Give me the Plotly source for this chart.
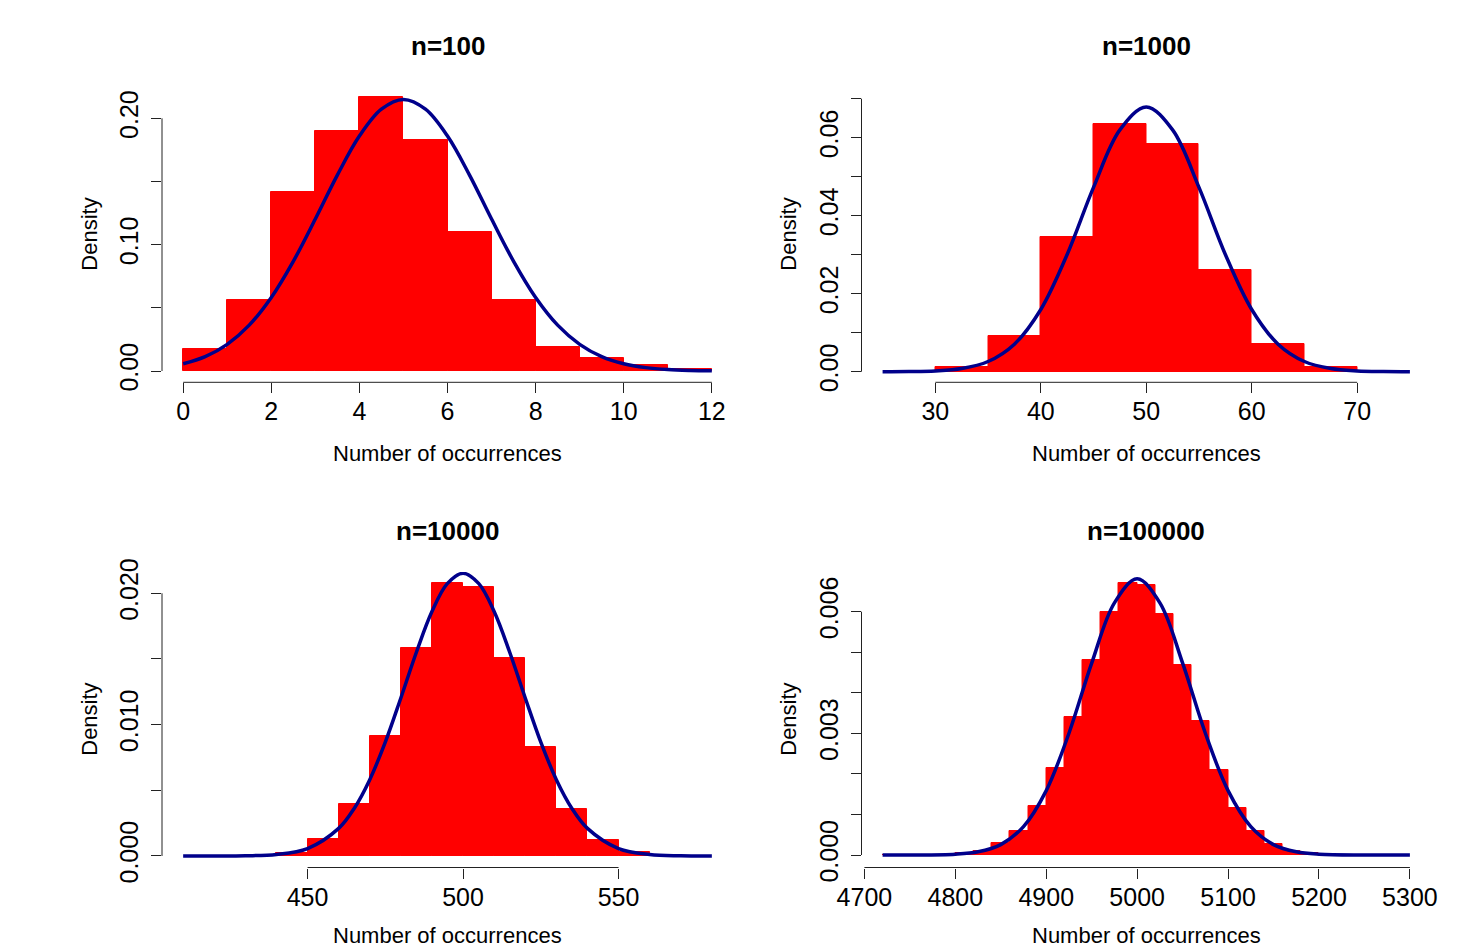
import plotly.graph_objects as go

# ---------------- data ----------------
titles = ["n=100", "n=1000", "n=10000", "n=100000"]
x_label = "Number of occurrences"
y_label = "Density"

# histogram bins (left edges) and densities
p1_left = [0, 1, 2, 3, 4, 5, 6, 7, 8, 9, 10, 11]
p1_binw = 1
p1_density = [0.0177, 0.0560, 0.1413, 0.1900, 0.2166, 0.1826, 0.1104, 0.0565,
              0.0188, 0.0106, 0.0048, 0.0013]

p2_left = [30, 35, 40, 45, 50, 55, 60, 65]
p2_binw = 5
p2_density = [0.0011, 0.0091, 0.0345, 0.0635, 0.0585, 0.0262, 0.0070, 0.0013]

p3_left = [440, 450, 460, 470, 480, 490, 500, 510, 520, 530, 540, 550]
p3_binw = 10
p3_density = [0.00025, 0.00127, 0.00396, 0.00916, 0.01581, 0.02076, 0.02046,
              0.01510, 0.00832, 0.00360, 0.00122, 0.00028]

p4_left = [4720, 4800, 4820, 4840, 4860, 4880, 4900, 4920, 4940, 4960, 4980,
           5000, 5020, 5040, 5060, 5080, 5100, 5120, 5140, 5160, 5180, 5280]
p4_binw = 20
p4_density = [0.000001, 0.00004, 0.00009, 0.00029, 0.00060, 0.00122, 0.00215,
              0.00341, 0.00481, 0.00600, 0.00672, 0.00667, 0.00595, 0.00468,
              0.00331, 0.00210, 0.00117, 0.00060, 0.00026, 0.00011, 0.00005,
              0.000001]

# normal curves
c1_x = [0, 0.5, 1, 1.5, 2, 2.5, 3, 3.5, 4, 4.5, 5, 5.5, 6, 6.5, 7, 7.5, 8,
        8.5, 9, 9.5, 10, 10.5, 11, 11.5, 12]
c1_y = [0.00571, 0.01137, 0.0211, 0.0363, 0.0582, 0.0868, 0.1203, 0.1551,
        0.1860, 0.2073, 0.2150, 0.2073, 0.1860, 0.1551, 0.1203, 0.0868,
        0.0582, 0.0363, 0.0211, 0.01137, 0.00571, 0.00267, 0.00116,
        0.00047, 0.000175]

c2_x = [25, 27.5, 30, 32.5, 35, 37.5, 40, 42.5, 45, 47.5, 50, 52.5, 55, 57.5,
        60, 62.5, 65, 67.5, 70, 72.5, 75]
c2_y = [0.0000079, 0.0000443, 0.000207, 0.000804, 0.002608, 0.00706, 0.01595,
        0.03006, 0.04727, 0.0620, 0.0679, 0.0620, 0.04727, 0.03006, 0.01595,
        0.00706, 0.002608, 0.000804, 0.000207, 0.0000443, 0.0000079]

c3_x = [410, 420, 430, 440, 450, 460, 465, 470, 475, 480, 485, 490, 495, 500,
        505, 510, 515, 520, 525, 530, 535, 540, 550, 560, 570, 580]
c3_y = [0.00000016, 0.00000195, 0.0000173, 0.0001145, 0.000567, 0.0021,
        0.003622, 0.005813, 0.00867, 0.01203, 0.01551, 0.01861, 0.02075,
        0.02152, 0.02075, 0.01861, 0.01551, 0.01203, 0.00867, 0.005813,
        0.003622, 0.0021, 0.000567, 0.0001145, 0.0000173, 0.00000195]

c4_x = [4720, 4750, 4800, 4825, 4850, 4875, 4900, 4925, 4950, 4975, 5000,
        5025, 5050, 5075, 5100, 5125, 5150, 5175, 5200, 5250, 5300]
c4_y = [0.000000075, 0.00000076, 0.0000201, 0.0000788, 0.000257, 0.000700,
        0.001588, 0.003003, 0.004732, 0.006218, 0.00681, 0.006218, 0.004732,
        0.003003, 0.001588, 0.000700, 0.000257, 0.0000788, 0.0000201,
        0.00000076, 0.000000014]

# axis ticks
x1_ticks = [0, 2, 4, 6, 8, 10, 12]
x2_ticks = [30, 40, 50, 60, 70]
x3_ticks = [450, 500, 550]
x4_ticks = [4700, 4800, 4900, 5000, 5100, 5200, 5300]

y1_ticks = [0, 0.05, 0.10, 0.15, 0.20]
y1_text = ["0.00", "", "0.10", "", "0.20"]
y2_ticks = [0, 0.01, 0.02, 0.03, 0.04, 0.05, 0.06, 0.07]
y2_text = ["0.00", "", "0.02", "", "0.04", "", "0.06", ""]
y3_ticks = [0, 0.005, 0.010, 0.015, 0.020]
y3_text = ["0.000", "", "0.010", "", "0.020"]
y4_ticks = [0, 0.001, 0.002, 0.003, 0.004, 0.005, 0.006]
y4_text = ["0.000", "", "", "0.003", "", "", "0.006"]

# ---------------- layout ----------------
W, H = 1460, 950
FONT = "Liberation Sans, Arial, Helvetica, sans-serif"
AX = "#222222"
BAR = "#FF0000"
LINE = "#00008B"

panels = [
    dict(left=p1_left, w=p1_binw, d=p1_density, cx=c1_x, cy=c1_y,
         xt=x1_ticks, yt=y1_ticks, ytxt=y1_text,
         xr=[-0.48, 12.48], yr=[-0.00894, 0.2248], col=0, row=0),
    dict(left=p2_left, w=p2_binw, d=p2_density, cx=c2_x, cy=c2_y,
         xt=x2_ticks, yt=y2_ticks, ytxt=y2_text,
         xr=[23, 77], yr=[-0.00272, 0.0730], col=1, row=0),
    dict(left=p3_left, w=p3_binw, d=p3_density, cx=c3_x, cy=c3_y,
         xt=x3_ticks, yt=y3_ticks, ytxt=y3_text,
         xr=[403.2, 586.8], yr=[-0.000876, 0.02162], col=0, row=1),
    dict(left=p4_left, w=p4_binw, d=p4_density, cx=c4_x, cy=c4_y,
         xt=x4_ticks, yt=y4_ticks, ytxt=y4_text,
         xr=[4696.8, 5323.2], yr=[-0.000308, 0.006979], col=1, row=1),
]

col_px = [(162, 733), (861.5, 1431)]
row_px = [(87, 382.3), (572, 867.5)]

fig = go.Figure()
layout = dict(
    width=W, height=H,
    margin=dict(l=0, r=0, t=0, b=0, pad=0, autoexpand=False),
    paper_bgcolor="white", plot_bgcolor="white", showlegend=False,
    bargap=0, font=dict(family=FONT, color="black"),
)
shapes = []
annotations = []

for i, p in enumerate(panels):
    k = "" if i == 0 else str(i + 1)
    xa, ya = "x" + k, "y" + k
    x0p, x1p = col_px[p["col"]]
    y0p, y1p = row_px[p["row"]]
    xdom = [x0p / W, x1p / W]
    ydom = [1 - y1p / H, 1 - y0p / H]

    fig.add_trace(go.Bar(x=p["left"], y=p["d"], width=p["w"], offset=0,
                         marker=dict(color=BAR, line=dict(color=BAR, width=1)),
                         xaxis=xa, yaxis=ya, hoverinfo="skip"))
    fig.add_trace(go.Scatter(x=p["cx"], y=p["cy"], mode="lines",
                             line=dict(color=LINE, width=3.5, shape="spline"),
                             xaxis=xa, yaxis=ya, hoverinfo="skip"))

    layout["xaxis" + k] = dict(
        domain=xdom, range=p["xr"], anchor=ya, tickmode="array",
        tickvals=p["xt"], ticktext=[str(v) for v in p["xt"]],
        ticks="outside", ticklen=10, tickwidth=1, tickcolor=AX,
        showline=False, showgrid=False, zeroline=False, automargin=False,
        tickfont=dict(size=25, family=FONT, color="black"),
        ticklabelstandoff=-3, fixedrange=True)
    layout["yaxis" + k] = dict(
        domain=ydom, range=p["yr"], anchor=xa, tickmode="array",
        tickvals=p["yt"], ticktext=p["ytxt"], tickangle=-90,
        ticks="outside", ticklen=10, tickwidth=1, tickcolor=AX,
        showline=False, showgrid=False, zeroline=False, automargin=False,
        tickfont=dict(size=25, family=FONT, color="black"),
        ticklabelstandoff=3, fixedrange=True)

    # R-style axis lines spanning first to last tick
    shapes.append(dict(type="line", xref=xa, yref=ya + " domain",
                       x0=p["xt"][0], x1=p["xt"][-1], y0=0, y1=0,
                       line=dict(color=AX, width=1)))
    shapes.append(dict(type="line", xref=xa + " domain", yref=ya,
                       x0=0, x1=0, y0=p["yt"][0], y1=p["yt"][-1],
                       line=dict(color=AX, width=1)))

    cx = (x0p + x1p) / 2 / W
    annotations.append(dict(text="<b>" + titles[i] + "</b>", xref="paper", yref="paper",
                            x=cx, y=1 - (46 + 485 * p["row"]) / H,
                            xanchor="center", yanchor="middle", showarrow=False,
                            font=dict(size=26, family=FONT, color="black")))
    annotations.append(dict(text=x_label, xref="paper", yref="paper",
                            x=cx, y=1 - (453 + 482 * p["row"]) / H,
                            xanchor="center", yanchor="middle", showarrow=False,
                            font=dict(size=22, family=FONT, color="black")))
    annotations.append(dict(text=y_label, xref="paper", yref="paper",
                            x=(90 + 699 * p["col"]) / W,
                            y=1 - ((y0p + y1p) / 2) / H,
                            xanchor="center", yanchor="middle", showarrow=False,
                            textangle=-90,
                            font=dict(size=22, family=FONT, color="black")))

layout["shapes"] = shapes
layout["annotations"] = annotations
fig.update_layout(**layout)

fig.write_html("out.html", config={"displayModeBar": False},
               post_script="document.body.style.margin='0';")
